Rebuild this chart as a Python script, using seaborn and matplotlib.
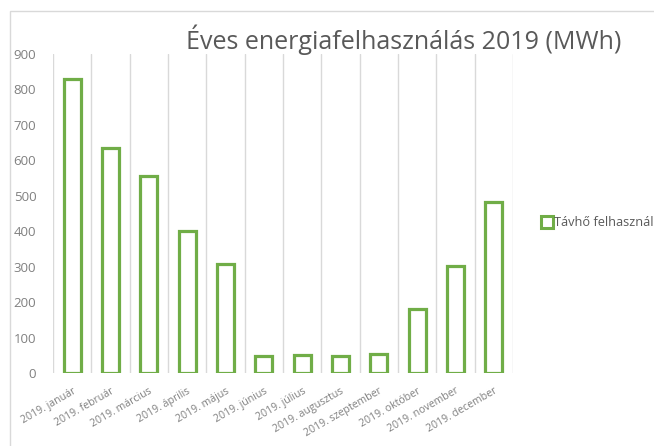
import numpy as np
import pandas as pd
import matplotlib
matplotlib.use("Agg")
import matplotlib.pyplot as plt
from matplotlib.patches import Rectangle
from matplotlib.lines import Line2D
import seaborn as sns

# monthly district heating use, 2019 (MWh)
months = ['2019. január', '2019. február', '2019. március', '2019. április',
          '2019. május', '2019. június', '2019. július', '2019. augusztus',
          '2019. szeptember', '2019. október', '2019. november', '2019. december']
values = [830, 635, 556, 402, 308, 49, 51, 48, 54, 180, 301, 483]
series_name = 'Távhő felhasznál'
title = 'Éves energiafelhasználás 2019 (MWh)'
y_ticks = list(range(0, 1000, 100))

green = '#70AD47'
grey_text = '#595959'
tick_col = '#808080'
grid_col = '#D9D9D9'

sns.set_style('white')
plt.rcParams['font.family'] = ['Open Sans', 'DejaVu Sans']

df = pd.DataFrame({'month': months, 'value': values})

fig = plt.figure(figsize=(6.54, 4.46), dpi=100)
W, H = 654, 446
ax = fig.add_axes([53 / W, 1 - 373 / H, (513 - 53) / W, (373 - 54) / H])

sns.barplot(data=df, x='month', y='value', ax=ax, width=0.44,
            color='white', edgecolor=green, linewidth=2.3, saturation=1)

ax.set_ylim(0, 900)
ax.set_xlim(-0.5, len(months) - 0.5)
ax.set_yticks(y_ticks)
ax.set_yticklabels([str(v) for v in y_ticks], color=tick_col, fontsize=9.5)
ax.set_xticks(range(len(months)))
ax.set_xticklabels(months, rotation=30, ha='right', rotation_mode='anchor',
                   color=tick_col, fontsize=7.6)
ax.tick_params(axis='both', length=0)
ax.tick_params(axis='x', pad=9)
ax.tick_params(axis='y', pad=12)
ax.set_xlabel('')
ax.set_ylabel('')

# vertical gridlines at category boundaries
ax.set_xticks(np.arange(-0.5, len(months)), minor=True)
ax.grid(which='minor', axis='x', color=grid_col, linewidth=1)
ax.grid(which='major', visible=False)
ax.set_axisbelow(True)
for s in ax.spines.values():
    s.set_visible(False)

fig.text(186 / W, 1 - 40 / H, title, fontsize=18, color=grey_text, va='center', ha='left')

# chart area border (cut off at right and bottom)
fig.patches.append(Rectangle((10 / W, -0.1), 1.2, 1 - 11 / H + 0.1,
                             transform=fig.transFigure, fill=False,
                             edgecolor='#D9D9D9', linewidth=1))

handle = Line2D([], [], marker='s', linestyle='none', markersize=8,
                markerfacecolor='white', markeredgecolor=green, markeredgewidth=2.2)
fig.legend([handle], [series_name], loc='center left',
           bbox_to_anchor=(535 / W, 1 - 223 / H), frameon=False,
           handletextpad=0.1, handlelength=1.0, borderaxespad=0,
           prop={'size': 9.2}, labelcolor=grey_text)

fig.savefig('out.png', dpi=100)
